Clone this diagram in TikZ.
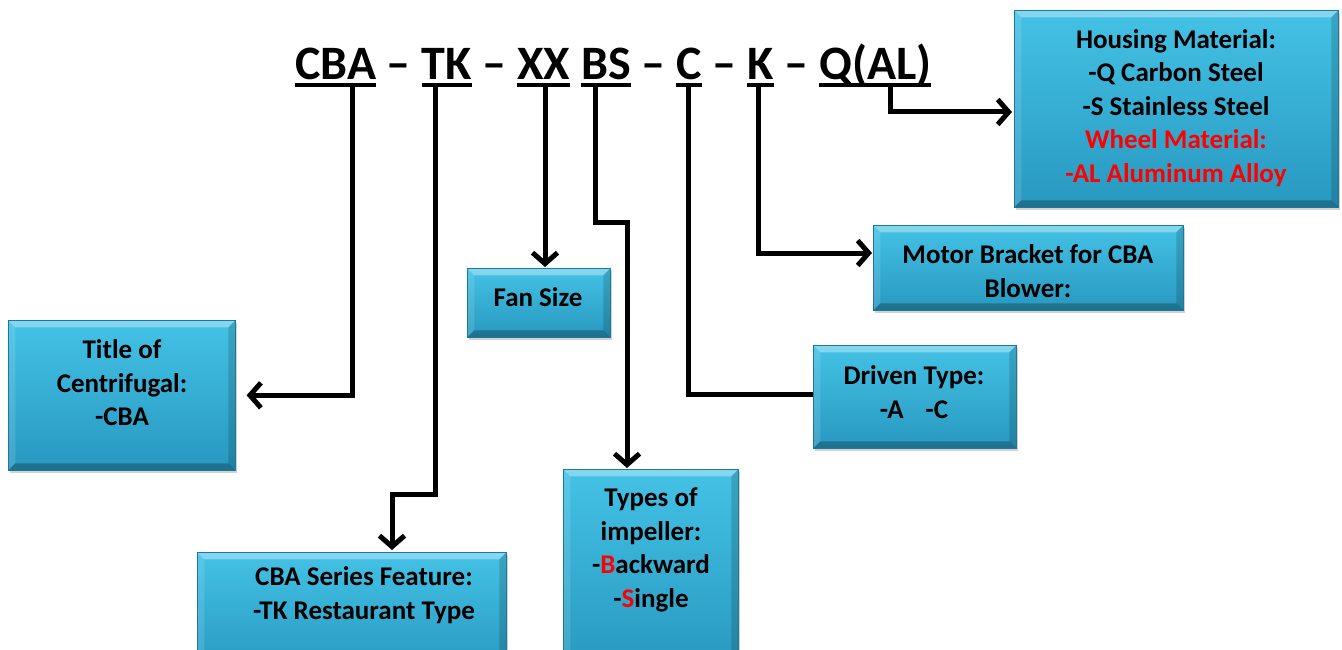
\documentclass[tikz,border=0pt]{standalone}
\usepackage{fontspec}
\setmainfont{Carlito}
\usetikzlibrary{arrows.meta,shadows,calc}
\definecolor{boxtop}{RGB}{68,194,230}
\definecolor{boxbot}{RGB}{40,152,192}
\definecolor{boxedge}{RGB}{30,120,155}
\definecolor{txtred}{RGB}{255,0,0}
\newcommand\ulw[1]{\setbox0\hbox{#1}\rlap{\rule[-7pt]{\wd0}{4pt}}\box0\relax}
\tikzset{
  box/.style={rectangle, inner sep=0pt, top color=boxtop, bottom color=boxbot,
    draw=boxedge, line width=0.6pt,
    drop shadow={shadow xshift=2pt, shadow yshift=-3pt, opacity=0.35},
    path picture={
      \path (path picture bounding box.north west) coordinate (bnw)
            (path picture bounding box.north east) coordinate (bne)
            (path picture bounding box.south east) coordinate (bse)
            (path picture bounding box.south west) coordinate (bsw);
      \fill[white,opacity=0.35] (bnw) -- (bne) -- ($(bne)+(-7,7)$) -- ($(bnw)+(7,7)$) -- cycle;
      \fill[white,opacity=0.12] (bnw) -- (bsw) -- ($(bsw)+(7,-7)$) -- ($(bnw)+(7,7)$) -- cycle;
      \fill[black,opacity=0.15] (bne) -- (bse) -- ($(bse)+(-7,-7)$) -- ($(bne)+(-7,7)$) -- cycle;
      \fill[black,opacity=0.25] (bsw) -- (bse) -- ($(bse)+(-7,-7)$) -- ($(bsw)+(7,-7)$) -- cycle;
    }},
  boxtext/.style={align=center, inner sep=0pt, font=\fontsize{27}{33.5}\selectfont\bfseries},
  conn/.style={line width=5pt, line join=miter, draw=black},
  arr/.style={conn, -{Straight Barb[length=11pt,width=25pt]}},
}
\begin{document}
\begin{tikzpicture}[x=1pt,y=-1pt]
\useasboundingbox[fill=white] (0,0) rectangle (1342,650);
\clip (0,0) rectangle (1342,650);

% header
\node[anchor=base west, inner sep=0pt, font=\fontsize{48}{56}\selectfont\bfseries] (header) at (295,80)
  {\ulw{CBA} -- \ulw{TK} -- \ulw{XX} \ulw{BS} -- \ulw{C} -- \ulw{K} -- \ulw{Q(AL)}};

\coordinate (cbaU) at (352,85);
\coordinate (tkU) at (435,85);
\coordinate (xxU) at (545,85);
\coordinate (bsU) at (595,85);
\coordinate (cU) at (688,85);
\coordinate (kU) at (758,85);
\coordinate (qU) at (890,85);

% boxes
\node[box, minimum width=324, minimum height=197, anchor=north west] (housing) at (1014,10) {};
\node[box, minimum width=310, minimum height=85, anchor=north west] (motor) at (873,225) {};
\node[box, minimum width=143, minimum height=69, anchor=north west] (fan) at (467,268) {};
\node[box, minimum width=227, minimum height=150, anchor=north west] (title) at (8,320) {};
\node[box, minimum width=203, minimum height=103, anchor=north west] (driven) at (813,345) {};
\node[box, minimum width=309, minimum height=120, anchor=north west] (series) at (197,552) {};
\node[box, minimum width=175, minimum height=200, anchor=north west] (types) at (563,469) {};

% texts
\node[boxtext] (housingT) at (1176,108) {Housing Material:\\-Q Carbon Steel\\-S Stainless Steel\\\textcolor{txtred}{Wheel Material:}\\\textcolor{txtred}{-AL Aluminum Alloy}};
\node[boxtext] (motorT) at (1028,271) {Motor Bracket for CBA\\Blower:};
\node[boxtext] (fanT) at (538,297) {Fan Size};
\node[boxtext] (titleT) at (122,383) {Title of\\Centrifugal:\\-CBA};
\node[boxtext] (drivenT) at (914,392) {Driven Type:\\-A\hspace{22pt}-C};
\node[boxtext] (seriesT) at (364,595) {CBA Series Feature:\\-TK Restaurant Type};
\node[boxtext] (typesT) at (651,550) {Types of\\impeller:\\-\textcolor{txtred}{B}ackward\\-\textcolor{txtred}{S}ingle};

% connectors
\draw[arr, shorten >=11pt] (cbaU) |- (title.east);
\coordinate (tkA) at (435,494);
\coordinate (tkB) at (392,494);
\draw[arr, shorten >=2pt] (tkU) -- (tkA) -- (tkB) -- (tkB |- series.north);
\draw[arr, shorten >=1pt] (xxU) -- (xxU |- fan.north);
\coordinate (bsA) at (595,222);
\coordinate (bsB) at (627,222);
\draw[arr, shorten >=1pt] (bsU) -- (bsA) -- (bsB) -- (bsB |- types.north);
\coordinate (cA) at (688,394);
\draw[conn] (cU) -- (cA) -- (cA -| driven.west);
\coordinate (kA) at (758,253);
\draw[arr, shorten >=1pt] (kU) -- (kA) -- (kA -| motor.west);
\coordinate (qA) at (890,112);
\draw[arr, shorten >=2pt] (qU) -- (qA) -- (qA -| housing.west);
\end{tikzpicture}
\end{document}
